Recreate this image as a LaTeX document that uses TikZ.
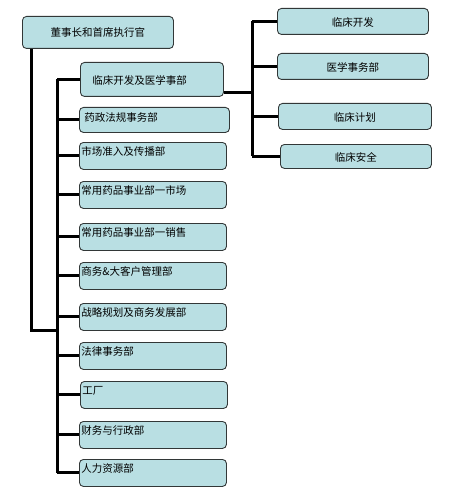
\documentclass[tikz,border=0pt]{standalone}
\usepackage{fontspec}
\setmainfont{Noto Sans CJK SC}
\usepackage{xcolor}
\usetikzlibrary{positioning, calc}
\definecolor{boxfill}{RGB}{185,223,227}
\definecolor{boxline}{RGB}{50,55,55}
\tikzset{
    basebox/.style  = {draw=boxline, line width=0.9pt, rounded corners=4pt,
                       fill=boxfill, font=\fontsize{10.5}{12}\selectfont,
                       anchor=north west, inner ysep=3pt},
    headbox/.style  = {basebox, minimum width=151pt, minimum height=32pt},
    deptbox/.style  = {basebox, text width=143pt, align=left, inner xsep=2pt,
                       text height=10.5pt, text depth=10.5pt},
    unitbox/.style  = {basebox, minimum width=151pt, minimum height=26pt,
                       text height=12pt, text depth=1pt},
    conn/.style     = {line width=3pt},
}

\begin{document}
\begin{tikzpicture}[x=1pt, y=-1pt]
\useasboundingbox (0,0) rectangle (449,492);

% top of the chart
\node[headbox] (ceo) at (22,16) {董事长和首席执行官};

% left column
\node[deptbox, text width=119pt, inner xsep=12pt, text height=19.5pt, text depth=8.5pt] (d1) at (80,62) {临床开发及医学事部};
\node[deptbox, text height=11.5pt, text depth=7.5pt, inner xsep=5pt, text width=140pt] (d2) at (79,107) {药政法规事务部};
\node[deptbox] (d3) at (79,142) {市场准入及传播部};
\node[deptbox] (d4) at (79,181) {常用药品事业部一市场};
\node[deptbox] (d5) at (79,223) {常用药品事业部一销售};
\node[deptbox] (d6) at (79,262) {商务\&大客户管理部};
\node[deptbox] (d7) at (79,303) {战略规划及商务发展部};
\node[deptbox] (d8) at (79,342) {法律事务部};
\node[deptbox] (d9) at (80,381) {工厂};
\node[deptbox] (d10) at (79,421) {财务与行政部};
\node[deptbox] (d11) at (79,459) {人力资源部};

% right column
\node[unitbox] (r1) at (277,8) {临床开发};
\node[unitbox] (r2) at (277,53) {医学事务部};
\node[unitbox, minimum width=153pt] (r3) at (278,103) {临床计划};
\node[unitbox, minimum height=24pt] (r4) at (280,144) {临床安全};

% spines
\coordinate (sa) at (31,330);
\coordinate (sb) at (57,330);
\coordinate (sc) at (252,93);

\draw[conn] (ceo.south -| sa) -- (sa) -- (sb);
\draw[conn] (sb |- d1.west) -- (sb |- d11.west);
\foreach \d in {d1,d2,d3,d4,d5,d6,d7,d8,d9,d10,d11}
    \draw[conn] (sb |- \d.west) -- (\d.west);

\draw[conn] (d1.east |- sc) -- (sc);
\draw[conn] (sc |- r1.west) -- (sc |- r4.west);
\foreach \r in {r1,r2,r3,r4}
    \draw[conn] (sc |- \r.west) -- (\r.west);

\end{tikzpicture}
\end{document}
